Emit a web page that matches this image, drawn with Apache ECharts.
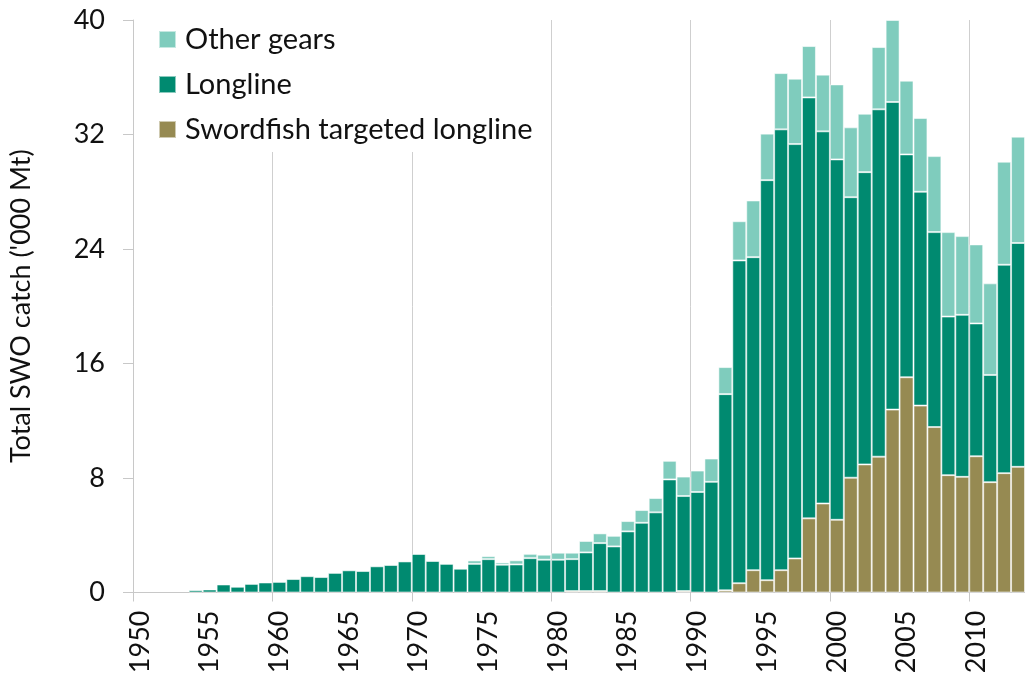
<!DOCTYPE html>
<html>
<head>
<meta charset="utf-8">
<script src="https://cdn.jsdelivr.net/npm/echarts@6/dist/echarts.min.js"></script>
<style>
html,body{margin:0;padding:0;background:#fff;}
#chart{width:1025px;height:679px;}
</style>
</head>
<body>
<div id="chart"></div>
<script>
// Years 1950-2013
var years = ['1950','1951','1952','1953','1954','1955','1956','1957','1958','1959',
  '1960','1961','1962','1963','1964','1965','1966','1967','1968','1969',
  '1970','1971','1972','1973','1974','1975','1976','1977','1978','1979',
  '1980','1981','1982','1983','1984','1985','1986','1987','1988','1989',
  '1990','1991','1992','1993','1994','1995','1996','1997','1998','1999',
  '2000','2001','2002','2003','2004','2005','2006','2007','2008','2009',
  '2010','2011','2012','2013'];

// Swordfish targeted longline ('000 Mt)
var swordfishLL = [null,null,null,null,null,null,null,null,null,null,
  null,null,null,null,null,null,null,null,null,null,
  null,null,null,null,null,null,null,null,null,null,
  null,0.1,0.1,0.1,null,null,null,null,null,0.1,
  null,null,0.15,0.65,1.56,0.86,1.56,2.38,5.18,6.22,
  5.08,8.02,8.95,9.49,12.78,15.04,13.06,11.56,8.20,8.08,
  9.52,7.71,8.34,8.78];

// Longline (other than swordfish targeted) ('000 Mt)
var longline = [null,null,null,null,0.16,0.21,0.56,0.40,0.60,0.70,
  0.74,0.94,1.14,1.08,1.37,1.55,1.50,1.83,1.92,2.17,
  2.69,2.20,2.00,1.66,2.00,2.33,1.94,1.96,2.40,2.29,
  2.29,2.23,2.70,3.35,3.22,4.27,4.87,5.60,7.90,6.64,
  7.02,7.73,13.71,22.55,21.87,27.95,30.80,28.95,29.41,26.00,
  25.18,19.60,20.42,24.27,21.49,15.57,14.94,13.62,11.08,11.32,
  9.28,7.49,14.56,15.64];

// Other gears ('000 Mt)
var otherGears = [null,null,null,null,null,null,null,null,null,null,
  null,null,null,null,null,null,null,null,null,null,
  null,null,null,null,0.24,0.21,0.16,0.29,0.30,0.35,
  0.49,0.45,0.80,0.68,0.74,0.72,0.89,1.00,1.30,1.36,
  1.50,1.63,1.89,2.74,3.96,3.25,3.93,4.57,3.59,3.96,
  5.24,4.88,4.08,4.35,5.73,5.15,5.15,5.31,5.90,5.50,
  5.52,6.40,7.20,7.43];

var yTicks = [0, 8, 16, 24, 32, 40];

var FONT = 'Lato';
var chart = echarts.init(document.getElementById('chart'), null, {renderer:'canvas'});
var border = {borderColor:'rgba(255,255,255,0.55)', borderWidth:1};

chart.setOption({
  animation:false,
  backgroundColor:'#ffffff',
  textStyle:{fontFamily:FONT},
  grid:{left:133, top:20, width:899, height:572.5, containLabel:false},
  legend:{
    orient:'vertical', left:148, top:20,
    padding:[5,12,8,10],
    backgroundColor:'#ffffff',
    itemWidth:17, itemHeight:17, itemGap:16,
    icon:'rect',
    data:['Other gears','Longline','Swordfish targeted longline'],
    textStyle:{fontFamily:FONT, fontSize:29, color:'#111', lineHeight:29, padding:[0,0,0,4]}
  },
  xAxis:{
    type:'category', data:years, boundaryGap:true,
    axisLine:{show:true, lineStyle:{color:'#c8c8c8', width:1}},
    axisTick:{show:true, interval:9, length:9, lineStyle:{color:'#c8c8c8'}},
    axisLabel:{interval:4, rotate:90, margin:18, fontFamily:FONT, fontSize:27, color:'#111'},
    splitLine:{show:true, interval:9, lineStyle:{color:'#cfcfcf', width:1}}
  },
  yAxis:{
    type:'value', min:yTicks[0], max:yTicks[yTicks.length-1], interval:8,
    name:"Total SWO catch ('000 Mt)", nameLocation:'middle', nameGap:98,
    nameTextStyle:{fontFamily:FONT, fontSize:27, color:'#111'},
    axisLine:{show:true, lineStyle:{color:'#c8c8c8', width:1}},
    axisTick:{show:true, length:10, lineStyle:{color:'#c8c8c8'}},
    axisLabel:{margin:28, fontFamily:FONT, fontSize:27, color:'#111'},
    splitLine:{show:false}
  },
  series:[
    {name:'Swordfish targeted longline', type:'bar', stack:'t', data:swordfishLL,
     barCategoryGap:'0%', itemStyle:Object.assign({color:'#968a52'}, border)},
    {name:'Longline', type:'bar', stack:'t', data:longline,
     barCategoryGap:'0%', itemStyle:Object.assign({color:'#008a70'}, border)},
    {name:'Other gears', type:'bar', stack:'t', data:otherGears,
     barCategoryGap:'0%', itemStyle:Object.assign({color:'#7fccbd'}, border)}
  ]
});
</script>
</body>
</html>
